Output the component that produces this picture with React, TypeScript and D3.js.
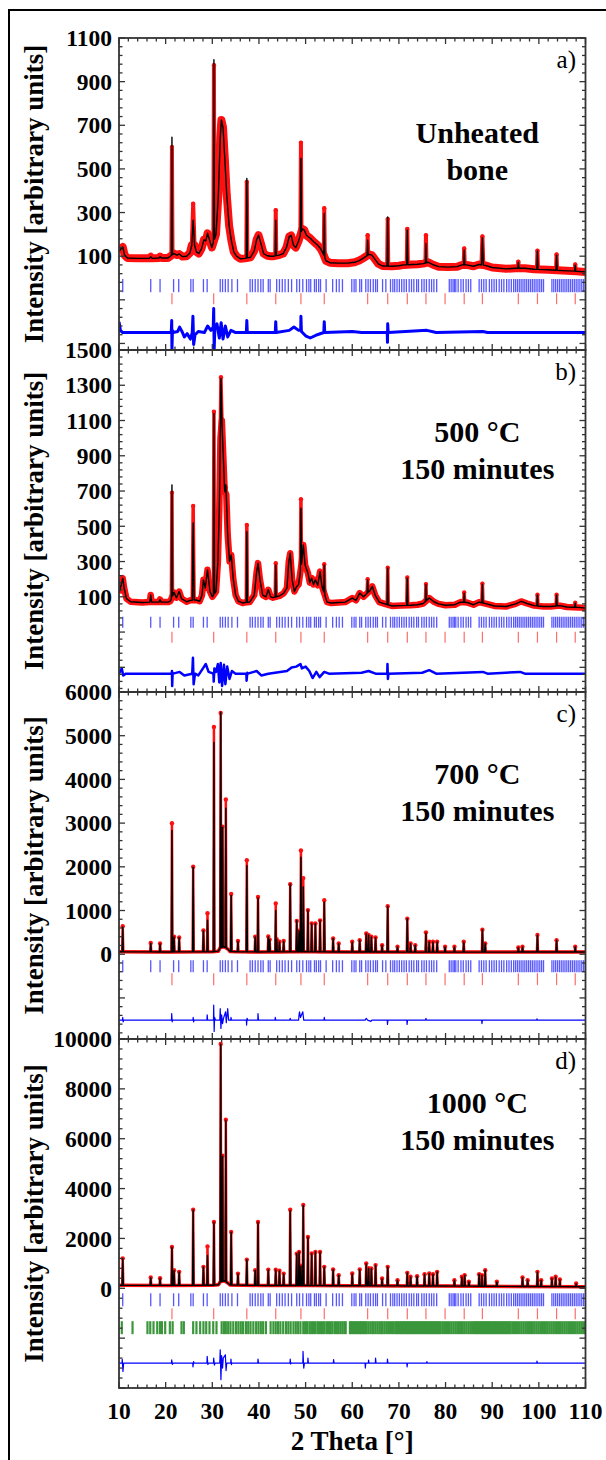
import React from 'react';
import * as d3 from 'd3';

// Bragg reflection positions (2 theta, degrees)
const hapTicks = [10.8, 16.8, 18.8, 21.7, 22.8, 25.4, 25.9, 28.1, 28.9, 31.7, 32.2, 32.8, 33.4, 34.2, 35.4,
  38.1, 38.6, 39.2, 39.8, 40.4, 40.9, 42.0, 42.4, 43.8, 44.4, 45.0, 45.6, 46.3, 47.0, 48.1, 48.7, 49.4,
  50.2, 50.7, 51.1, 51.9, 52.3, 52.8, 53.2, 54.4, 55.8, 56.6, 57.2, 57.9, 59.9, 60.4, 60.8, 61.6, 62.0,
  62.9, 63.4, 63.9, 64.5, 65.0, 65.4, 66.5, 67.2, 68.2, 68.7, 69.1, 69.6, 70.1, 70.6, 71.1, 71.6, 72.2,
  72.7, 73.2, 73.8, 74.2, 74.9, 75.4, 75.9, 76.5, 77.0, 77.5, 78.1, 80.8, 81.2, 81.6, 81.9, 82.2, 82.7,
  83.3, 83.8, 84.4, 84.9, 85.4, 87.2, 87.7, 88.2, 88.7, 89.4, 89.9, 90.4, 90.9, 91.5, 92.0, 92.5, 93.1,
  93.6, 94.1, 94.6, 95.0, 95.4, 95.8, 96.2, 96.6, 97.0, 97.4, 97.8, 98.2, 98.6, 99.0, 99.4, 99.8, 100.2,
  100.6, 101.0, 102.8, 103.2, 103.6, 104.0, 104.4, 104.8, 105.2, 105.6, 106.0, 106.4, 106.8, 107.2,
  107.6, 108.0, 108.4, 108.8, 109.2, 109.6, 110.0];
const lab6Ticks = [21.35, 30.3, 37.4, 43.6, 49.0, 54.0, 63.3, 67.6, 71.8, 75.8, 79.9, 84.0, 87.9, 95.6, 99.7, 103.8, 107.8];
const tcpTicks = [10.6, 12.9, 16.1, 16.7, 17.4, 18.2, 18.8, 19.2, 19.9, 20.9, 21.5, 23.4, 23.9, 25.9, 26.6,
  27.4, 28.1, 28.7, 29.4, 30.2, 30.9, 32.0, 32.5, 32.9, 33.4, 33.9, 34.5, 35.1, 35.6, 36.1, 36.6, 37.2,
  37.7, 38.2, 38.8, 39.4, 39.9, 40.4, 40.9, 41.5, 42.5, 43.1, 43.6, 44.1, 44.6, 45.2, 45.8, 46.3, 46.8,
  47.4, 47.9, 48.4, 48.9, 49.5, 49.9, 50.3, 50.8, 51.2, 51.6, 52.0, 52.5, 52.9, 53.3, 53.7, 54.1, 54.6,
  55.0, 55.4, 55.8, 56.3, 56.7, 57.1, 57.5, 57.9, 58.3, 58.6, 59.5, 59.8, 60.1, 60.4, 60.7, 61.0, 61.3,
  61.6, 61.9, 62.2, 62.5, 62.8, 63.1, 63.5, 63.9, 64.3, 64.6, 65.0, 65.4, 65.8, 66.2, 66.5, 66.9, 67.3,
  67.7, 68.1, 68.5, 68.9, 69.3, 69.6, 69.9, 70.2, 70.5, 70.8, 71.1, 71.4, 71.7, 72.0, 72.3, 72.6, 72.9,
  73.2, 73.5, 73.8, 74.1, 74.4, 74.7, 75.0, 75.3, 75.6, 75.9, 76.2, 76.5, 76.8, 77.1, 77.4, 77.7, 78.0,
  78.3, 78.6, 78.9, 79.3, 79.7, 80.1, 80.5, 80.9, 81.3, 81.7, 82.1, 82.5, 82.9, 83.3, 83.7, 84.1, 84.5,
  84.9, 85.3, 85.7, 86.1, 86.4, 86.7, 87.0, 87.3, 87.6, 87.9, 88.2, 88.5, 88.8, 89.1, 89.4, 89.7, 90.0,
  90.3, 90.6, 90.9, 91.2, 91.5, 91.8, 92.1, 92.4, 92.7, 93.0, 93.3, 93.6, 93.9, 94.3, 94.7, 95.1, 95.5,
  95.9, 96.3, 96.7, 97.1, 97.5, 97.9, 98.3, 98.7, 99.1, 99.5, 99.9, 100.3, 100.7, 101.1, 101.5, 101.9,
  102.3, 102.7, 103.1, 103.5, 103.9, 104.3, 104.7, 105.1, 105.5, 105.9, 106.3, 106.7, 107.1, 107.5,
  107.9, 108.3, 108.7, 109.1, 109.5, 109.9];

// smooth part of each pattern [2theta, I], sharp reflections [2theta, Icalc, Iobs, halfWidth?], difference [2theta, Iobs-Icalc]
const aBase = [[10, 122], [10.5, 135], [10.8, 142], [11.2, 105], [11.8, 92], [14, 90], [16.5, 90], [16.8, 97], [17.1, 90],
  [18.6, 92], [18.8, 98], [19.1, 92], [20.5, 92], [21.8, 112], [22.4, 105], [22.9, 110], [23.6, 98], [24.5, 100],
  [25.2, 115], [25.6, 150], [26.2, 150], [26.6, 120], [27.1, 112], [27.7, 135], [28.2, 175], [28.6, 170], [29.0, 205],
  [29.4, 175], [29.9, 140], [30.8, 200], [31.3, 380], [31.7, 640], [31.95, 724], [32.3, 690], [32.7, 540], [33.1, 380],
  [33.6, 240], [34.1, 170], [34.6, 120], [35.2, 100], [36, 88], [37, 90], [38.2, 95], [39, 125], [39.5, 175], [39.9, 196],
  [40.4, 160], [41, 112], [41.8, 102], [42.5, 100], [43.2, 100], [44.3, 105], [45.2, 112], [45.9, 140], [46.5, 190],
  [46.9, 195], [47.4, 150], [47.9, 140], [48.5, 170], [49.3, 225], [49.7, 220], [50.2, 195], [51, 182], [51.8, 165],
  [52.6, 150], [53.2, 135], [53.7, 115], [54.4, 78], [55.2, 70], [57, 68], [59, 68], [60.5, 72], [61.5, 80], [62.3, 90],
  [63.6, 108], [64.2, 105], [64.8, 88], [65.6, 65], [66.5, 55], [68.5, 54], [70, 56], [71, 60], [72.8, 62], [74, 63],
  [75.2, 66], [76.3, 72], [77.2, 62], [78.5, 52], [80.5, 50], [82.5, 52], [83.5, 60], [84.5, 60], [86, 54], [87.2, 62],
  [88.5, 58], [90, 48], [93, 42], [95, 45], [97, 45], [99, 40], [102, 38], [105, 34], [108, 31], [110, 28]];
const aPeaks = [[21.35, 645, 600], [25.9, 265, 340, 0.3], [30.35, 1000, 975], [37.4, 456, 440], [43.6, 265, 311],
  [49.0, 548, 620], [54.0, 296, 320], [63.3, 173, 196], [67.6, 280, 270], [71.8, 219, 225], [75.8, 158, 196],
  [84.0, 128, 135], [87.9, 185, 190, 0.2], [95.6, 72, 75], [99.7, 124, 125], [103.8, 105, 108], [107.8, 59, 62]];
const aDiff = [[10, 0], [10.05, 45], [10.3, 10], [10.8, 0], [21.2, 0], [21.3, 55], [21.35, -80], [21.45, 10], [21.6, 0],
  [22.6, 5], [23, 25], [23.5, 5], [24, -20], [24.6, -5], [25.3, -30], [25.7, 0], [25.85, 75], [26, -55], [26.3, -10],
  [27, 5], [28.3, 0], [29, 30], [29.7, 10], [30.2, 25], [30.3, 110], [30.4, -80], [30.55, 20], [31, 40], [31.5, -25],
  [31.9, 45], [32.3, -30], [32.8, 30], [33.3, -20], [34, 10], [35, 0], [37.3, 0], [37.4, 55], [37.5, 0], [43.5, 0],
  [43.6, 50], [43.7, 0], [46.5, 10], [47.5, 25], [48.5, 10], [48.95, 10], [49, 75], [49.1, 5], [50, -15], [51, -25],
  [52.5, -10], [53.9, 0], [54, 50], [54.1, 0], [60, 5], [62, 0], [67.5, 0], [67.55, -45], [67.6, 40], [67.7, 0],
  [76, 10], [78, 0], [88, 5], [89, 0], [110, 0]];

const bBase = [[10, 121], [10.5, 170], [10.8, 206], [11.1, 150], [11.6, 90], [12.5, 72], [15, 68], [16.6, 70], [16.8, 110],
  [17.0, 70], [18.6, 70], [18.8, 85], [19.0, 70], [20.5, 70], [21.0, 75], [21.8, 125], [22.3, 95], [22.9, 130], [23.4, 90],
  [24.5, 72], [25.3, 80], [26.5, 82], [27.3, 75], [27.8, 110], [28.1, 196], [28.5, 150], [28.97, 253], [29.5, 130],
  [30.0, 100], [30.8, 130], [31.2, 300], [31.5, 600], [31.75, 1000], [32.05, 1100], [32.35, 900], [32.65, 700],
  [33.0, 680], [33.3, 450], [33.7, 300], [34.05, 338], [34.5, 200], [35.0, 110], [35.6, 75], [36.5, 65], [37.0, 68],
  [38, 70], [39.0, 110], [39.5, 240], [39.8, 291], [40.2, 200], [40.8, 110], [41.5, 100], [42.0, 140], [42.5, 100],
  [43.0, 95], [44.4, 105], [45.3, 120], [46.0, 150], [46.4, 300], [46.7, 347], [47.1, 200], [47.6, 130], [48.1, 159],
  [48.5, 170], [49.2, 300], [49.5, 394], [49.9, 280], [50.5, 234], [50.9, 180], [51.3, 206], [51.7, 170], [52.1, 196],
  [52.6, 165], [53.1, 243], [53.5, 160], [54.6, 70], [55.5, 65], [57, 68], [58.5, 70], [60.0, 93], [60.8, 80],
  [61.6, 121], [62.4, 100], [63.8, 135], [64.3, 159], [64.9, 110], [65.8, 70], [67, 60], [68.5, 48], [70.5, 50],
  [72.5, 52], [74, 55], [75.2, 62], [76.5, 93], [77.5, 72], [78.5, 60], [80, 52], [82, 55], [83.2, 70], [84.6, 68],
  [86, 55], [87.2, 70], [88.8, 60], [90.5, 48], [93, 45], [95, 60], [96.2, 74], [97.5, 62], [99, 50], [101, 45],
  [102.5, 45], [104.5, 50], [106, 42], [108.5, 40], [110, 36]];
const bPeaks = [[21.35, 735, 690], [25.9, 519, 615, 0.2], [30.35, 1140, 1150], [31.85, 1338, 1345, 0.25],
  [32.9, 735, 720, 0.15], [37.4, 470, 508], [43.6, 281, 290], [49.0, 602, 653], [54.0, 281, 285], [63.3, 196, 200],
  [67.6, 263, 265], [71.8, 206, 210], [75.8, 168, 172], [84.0, 121, 125], [87.9, 172, 175], [99.7, 111, 112],
  [103.8, 111, 112], [107.8, 64, 66]];
const bDiff = [[10, 0], [10.6, 30], [10.9, -10], [11.5, 0], [21.3, 0], [21.35, 15], [21.4, -70], [21.5, 5], [21.6, 0],
  [23, 10], [24, -10], [25.7, 0], [25.85, 90], [26, -60], [26.3, 0], [27, -10], [28, 30], [28.6, 55], [29.2, 10],
  [30.25, 0], [30.3, -45], [30.45, 30], [30.8, 10], [31.2, 55], [31.5, -50], [31.8, 60], [32.1, -70], [32.5, 50],
  [32.8, -60], [33.2, 40], [33.7, -30], [34.2, 15], [35, 0], [37.3, 0], [37.35, -40], [37.5, 5], [37.6, 0], [39.5, 15],
  [40.5, -10], [42, 0], [46, 15], [47, 35], [48, 40], [48.9, 55], [49.2, 30], [50, 40], [50.8, 15], [51.5, -25],
  [52.3, 10], [53, -20], [54, 10], [55, 0], [62, 5], [63.5, 15], [65, 0], [67.5, 0], [67.55, 55], [67.65, -30],
  [67.75, 0], [75, 5], [76.5, 20], [78, 0], [88, 10], [89, 0], [96, 10], [97, 0], [110, 0]];

const cBase = [[10, 55], [20, 52], [30, 55], [31.3, 70], [31.7, 150], [32.6, 170], [33.4, 110], [33.8, 60], [35, 55],
  [40, 52], [50, 55], [60, 50], [80, 48], [110, 50]];
const cPeaks = [[10.8, 624, 640], [16.8, 250, 255], [18.8, 243, 245], [21.35, 2831, 2998], [21.8, 396, 400],
  [22.9, 380, 385], [25.9, 1993, 2000], [28.1, 540, 545], [28.97, 776, 940], [30.35, 4847, 5200], [31.8, 5540, 5520],
  [32.2, 2907, 2920], [32.9, 3340, 3540], [34.05, 1347, 1380], [35.5, 300, 305], [37.4, 2032, 2150], [39.2, 396, 400],
  [39.8, 1290, 1310], [42.0, 400, 405], [42.3, 330, 335], [43.6, 1000, 1160], [43.8, 340, 345], [44.4, 281, 285],
  [45.3, 300, 305], [46.7, 1605, 1600], [48.1, 770, 760], [48.6, 531, 540], [49.0, 2222, 2374], [49.5, 1537, 1742],
  [50.5, 1005, 1010], [51.3, 700, 705], [52.1, 700, 705], [53.1, 770, 775], [54.0, 1195, 1237], [55.9, 358, 360],
  [57.1, 243, 245], [60.0, 281, 285], [61.6, 319, 320], [63.0, 472, 475], [63.5, 434, 440], [64.1, 396, 400],
  [65.0, 380, 385], [66.4, 205, 205], [67.6, 1096, 1096], [69.7, 167, 170], [71.8, 814, 814], [72.5, 243, 245],
  [73.5, 205, 205], [75.8, 487, 500], [76.5, 281, 285], [77.3, 281, 285], [78.2, 281, 285], [79.9, 167, 170],
  [81.9, 167, 170], [83.9, 281, 285], [87.9, 563, 560], [88.5, 243, 245], [95.6, 152, 155], [96.5, 167, 170],
  [99.7, 434, 440], [103.8, 319, 320], [107.8, 167, 170]];
const cDiff = [[10, 0], [10.75, 0], [10.8, 60], [10.9, -40], [11, 0], [21.25, 0], [21.3, 150], [21.4, -40], [21.5, 0],
  [25.85, 0], [25.9, 60], [26, -40], [26.1, 0], [28.85, 0], [28.9, 120], [29, 0], [30.25, 0], [30.3, 340],
  [30.4, -260], [30.5, 60], [30.7, 0], [31.6, 0], [31.7, 260], [31.85, -190], [32, 120], [32.2, -80], [32.4, 40],
  [32.85, 190], [33.0, -60], [33.3, 260], [33.5, 0], [33.95, 0], [34.0, 60], [34.1, 0], [37.3, 0], [37.35, -114],
  [37.45, 40], [37.6, 0], [39.75, 0], [39.8, 150], [39.9, 0], [43.45, 0], [43.5, 60], [43.6, 0], [46.6, 0], [46.7, 40],
  [46.8, 0], [48.5, 0], [48.6, 120], [48.7, 190], [48.9, 60], [49.4, 190], [49.6, 0], [53.95, 0], [54, 60], [54.1, 0],
  [62.8, 0], [63, 40], [63.3, 0], [64, -30], [64.2, 0], [67.5, 0], [67.55, -100], [67.65, 0], [71.7, 0],
  [71.75, -100], [71.85, 0], [75.7, 0], [75.8, 40], [75.9, 0], [87.75, 0], [87.8, -80], [87.9, 0], [99.55, 0],
  [99.6, 30], [99.7, 0], [110, 0]];

const dBase = [[10, 120], [20, 115], [30, 120], [31.3, 140], [31.7, 260], [32.6, 300], [33.4, 200], [33.8, 130],
  [40, 115], [50, 110], [60, 100], [80, 90], [110, 60]];
const dPeaks = [[10.8, 1187, 1200], [16.8, 427, 430], [18.8, 400, 405], [21.35, 1653, 1660], [21.8, 720, 725],
  [22.9, 653, 660], [25.9, 3140, 3150], [28.1, 853, 860], [28.97, 1320, 1680], [30.35, 2653, 2660], [31.8, 9787, 9800],
  [32.2, 5300, 5320], [32.9, 6740, 6760], [34.05, 2253, 2260], [35.5, 587, 590], [37.4, 1147, 1150], [39.2, 720, 725],
  [39.8, 2653, 2660], [42.0, 747, 750], [43.6, 740, 745], [44.4, 700, 705], [45.3, 587, 590], [46.7, 3120, 3150],
  [48.1, 1387, 1390], [48.6, 1455, 1460], [49.0, 900, 905], [49.5, 3320, 3340], [50.5, 2055, 2060], [51.3, 1389, 1395],
  [52.1, 1455, 1460], [53.1, 1455, 1460], [54.0, 856, 860], [55.9, 749, 755], [57.1, 522, 525], [60.0, 589, 595],
  [61.6, 749, 755], [63.0, 989, 995], [63.5, 800, 805], [64.1, 789, 795], [65.0, 922, 930], [66.4, 389, 395],
  [67.6, 856, 860], [69.7, 322, 325], [71.8, 616, 620], [72.5, 456, 460], [73.9, 483, 485], [75.5, 563, 565],
  [76.5, 590, 595], [77.3, 563, 565], [78.2, 656, 660], [81.9, 322, 325], [83.5, 456, 460], [84.1, 522, 525],
  [85.0, 256, 260], [87.2, 563, 565], [87.8, 520, 525], [88.5, 722, 725], [91.0, 256, 260], [96.5, 429, 430],
  [97.6, 322, 325], [99.7, 656, 660], [100.5, 322, 325], [102.8, 389, 390], [103.6, 456, 460], [104.5, 349, 350],
  [108.0, 189, 190]];
const dDiff = [[10, 0], [10.65, 0], [10.7, 150], [10.85, -333], [11, 0], [21.25, 0], [21.3, 133], [21.45, -50],
  [21.6, 0], [25.8, 0], [25.85, -150], [26, 60], [26.1, 0], [28.85, 0], [28.9, 267], [29.05, -60], [29.2, 0],
  [30.25, 0], [30.3, 200], [30.45, -80], [30.6, 0], [31.6, 0], [31.7, 533], [31.85, -667], [32.0, 300], [32.2, -200],
  [32.35, 200], [32.8, 333], [32.95, -300], [33.1, 0], [33.95, 0], [34.0, 160], [34.1, -60], [34.2, 0], [39.75, 0],
  [39.8, 160], [39.9, 0], [46.65, 0], [46.7, 160], [46.8, -40], [46.9, 0], [49.4, 0], [49.45, 467], [49.6, -200],
  [49.75, 0], [50.45, 0], [50.5, 200], [50.6, 0], [55.95, 0], [56, 140], [56.1, 0], [62.75, 0], [62.8, -200],
  [62.9, 0], [63.45, 0], [63.5, 120], [63.6, 0], [64.95, 0], [65, 200], [65.1, 0], [67.5, 0], [67.55, 160],
  [67.65, 0], [71.7, 0], [71.75, -150], [71.85, 0], [75.9, 0], [76, 60], [76.1, 0], [99.55, 0], [99.6, 80],
  [99.7, 0], [110, 0]];

const xTicks = [10, 20, 30, 40, 50, 60, 70, 80, 90, 100, 110];

const panels = [
  { id: 'a', label: 'a)', note: ['Unheated', 'bone'], noteY: 105, top: 38, bottom: 350, domain: [-330, 1100],
    first: 100, major: 200, minor: 40, base: aBase, peaks: aPeaks, diff: aDiff, diffAt: -250,
    band: 8, obsW: 4, diffW: 3, rows: [[hapTicks, -5, -65, 'blue'], [lab6Ticks, -70, -120, 'red']] },
  { id: 'b', label: 'b)', note: ['500 °C', '150 minutes'], noteY: 92, top: 350, bottom: 692, domain: [-440, 1500],
    first: 100, major: 200, minor: 40, base: bBase, peaks: bPeaks, diff: bDiff, diffAt: -336,
    band: 6.5, obsW: 3.5, diffW: 2.5, rows: [[hapTicks, -13, -75, 'blue'], [lab6Ticks, -98, -160, 'red']] },
  { id: 'c', label: 'c)', note: ['700 °C', '150 minutes'], noteY: 92, top: 692, bottom: 1039, domain: [-1940, 6000],
    first: 0, major: 1000, minor: 200, base: cBase, peaks: cPeaks, diff: cDiff, diffAt: -1507,
    band: 3.5, obsW: 2.5, diffW: 1.2, rows: [[hapTicks, -137, -411, 'blue'], [lab6Ticks, -434, -708, 'red']] },
  { id: 'd', label: 'd)', note: ['1000 °C', '150 minutes'], noteY: 74, top: 1039, bottom: 1388, domain: [-4000, 10000],
    first: 0, major: 2000, minor: 400, base: dBase, peaks: dPeaks, diff: dDiff, diffAt: -3000,
    band: 3.5, obsW: 2.5, diffW: 1.2,
    rows: [[hapTicks, -200, -720, 'blue'], [lab6Ticks, -800, -1240, 'red'], [tcpTicks, -1320, -1840, 'green']] },
];

const tickStyle = { blue: ['#2020ff', 0.75, 1.3], red: ['#ff3030', 0.7, 1.2], green: ['#0a7d0a', 0.8, 2.2] };
const font = 'Liberation Serif, Times New Roman, serif';

const x = d3.scaleLinear().domain([10, 110]).range([119, 585.5]);

// merge smooth vertices with the sharp reflections (col 1 = calc, col 2 = obs)
function profile(base, peaks, col) {
  const bg = d3.scaleLinear().domain(base.map(d => d[0])).range(base.map(d => d[1]));
  const hw = p => p[3] ?? 0.12;
  const pts = base.filter(([t]) => !peaks.some(p => Math.abs(t - p[0]) < hw(p)));
  peaks.forEach(p => {
    const w = hw(p);
    pts.push([p[0] - w, bg(p[0] - w)], [p[0], p[col]], [p[0] + w, bg(p[0] + w)]);
  });
  return pts.sort((u, v) => u[0] - v[0]);
}

function Panel({ p }) {
  const y = d3.scaleLinear().domain(p.domain).range([p.bottom, p.top]);
  const line = d3.line().x(d => x(d[0])).y(d => y(d[1]));
  const calc = profile(p.base, p.peaks, 1);
  const obs = profile(p.base, p.peaks, 2);
  const diff = p.diff.map(([t, v]) => [t, p.diffAt + v]);

  const minorTicks = d3.range(Math.ceil((p.domain[0] - p.first) / p.minor), Math.floor((p.domain[1] - p.first) / p.minor) + 1)
    .map(k => p.first + k * p.minor);
  const isMajor = v => Math.abs(((v - p.first) % p.major)) < 1e-6;
  const labels = minorTicks.filter(v => isMajor(v) && v >= p.first);
  const xMinor = d3.range(10, 111, 2);
  const X0 = x.range()[0], X1 = x.range()[1];
  const cx = (X0 + X1) / 2;

  return (
    <g>
      <defs>
        <clipPath id={'clip-' + p.id}>
          <rect x={X0} y={p.top} width={X1 - X0} height={p.bottom - p.top} />
        </clipPath>
      </defs>
      <g clipPath={`url(#clip-${p.id})`}>
        <path d={line(p.base)} fill="none" stroke="#ff1010" strokeWidth={p.band} strokeLinejoin="round" />
        <path d={line(obs)} fill="none" stroke="#ff1010" strokeWidth={p.obsW} strokeLinejoin="round" />
        {p.peaks.map((d, i) => (
          <circle key={i} cx={x(d[0])} cy={y(d[2])} r={2.2} fill="#ff1010" />
        ))}
        <path d={line(calc)} fill="none" stroke="#000" strokeWidth={1.4} strokeLinejoin="round" />
        <path d={line(diff)} fill="none" stroke="#0000ff" strokeWidth={p.diffW} strokeLinejoin="round" />
        {p.rows.map(([ticks, v0, v1, c], j) => (
          <g key={j} stroke={tickStyle[c][0]} opacity={tickStyle[c][1]} strokeWidth={tickStyle[c][2]}>
            {ticks.map((t, i) => (
              <line key={i} x1={x(t)} x2={x(t)} y1={y(v0)} y2={y(v1)} />
            ))}
          </g>
        ))}
      </g>

      {/* frame and inward ticks */}
      <g stroke="#333" strokeWidth={1.3}>
        {xMinor.map(t => {
          const len = t % 10 === 0 ? 6 : 3.5;
          return (
            <g key={t}>
              <line x1={x(t)} x2={x(t)} y1={p.top} y2={p.top + len} />
              <line x1={x(t)} x2={x(t)} y1={p.bottom} y2={p.bottom - len} />
            </g>
          );
        })}
        {minorTicks.map(v => {
          const len = isMajor(v) ? 6 : 3.5;
          return (
            <g key={v}>
              <line x1={X0} x2={X0 + len} y1={y(v)} y2={y(v)} />
              <line x1={X1} x2={X1 - len} y1={y(v)} y2={y(v)} />
            </g>
          );
        })}
      </g>
      <rect x={X0} y={p.top} width={X1 - X0} height={p.bottom - p.top} fill="none" stroke="#333" strokeWidth={1.8} />

      <g fontFamily={font} fontWeight="bold" fontSize={23.5} textAnchor="end">
        {labels.map(v => (
          <text key={v} x={112} y={y(v)} dy="0.35em">{v}</text>
        ))}
      </g>
      <text transform={`translate(43,${(p.top + p.bottom) / 2}) rotate(-90)`} textAnchor="middle"
        fontFamily={font} fontWeight="bold" fontSize={27}>Intensity [arbitrary units]</text>
      <text x={576} y={p.top + 30} textAnchor="end" fontFamily={font} fontSize={25}>{p.label}</text>
      <g fontFamily={font} fontWeight="bold" fontSize={30} textAnchor="middle">
        {p.note.map((s, i) => (
          <text key={i} x={cx + 125} y={p.top + p.noteY + i * 37}>{s}</text>
        ))}
      </g>
    </g>
  );
}

export default function App() {
  const last = panels[panels.length - 1];
  return (
    <svg width={606} height={1460} style={{ position: 'absolute', left: 0, top: 0, background: '#fff' }}>
      <rect x={9} y={10} width={640} height={1480} fill="#fff" stroke="#000" strokeWidth={2} />
      {panels.map(p => <Panel key={p.id} p={p} />)}
      <g fontFamily={font} fontWeight="bold" fontSize={23.5} textAnchor="middle">
        {xTicks.map(t => (
          <text key={t} x={x(t)} y={last.bottom + 31}>{t}</text>
        ))}
      </g>
      <text x={(x.range()[0] + x.range()[1]) / 2} y={1450} textAnchor="middle" fontFamily={font}
        fontWeight="bold" fontSize={27}>2 Theta [°]</text>
    </svg>
  );
}
